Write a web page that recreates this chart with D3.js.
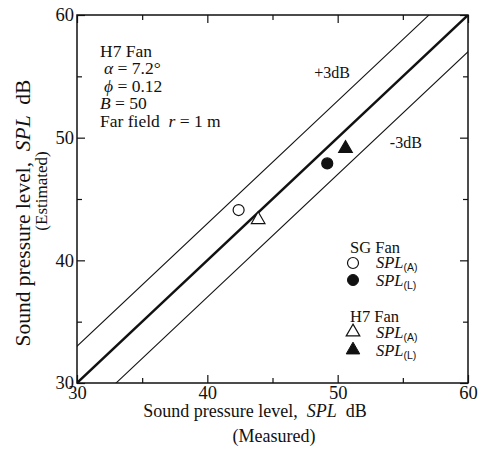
<!DOCTYPE html>
<html>
<head>
<meta charset="utf-8">
<script src="https://cdn.jsdelivr.net/npm/d3@7"></script>
<style>
  body { margin: 0; background: #fff; }
  text { font-family: "Liberation Serif", "Times New Roman", serif; fill: #111; white-space: pre; }
</style>
</head>
<body>
<div id="chart"></div>
<script>
// data
var majorTicks = [30, 40, 50, 60];
var minorTicks = [35, 45, 55];
var sgA = [[42.4, 44.1]];
var sgL = [[49.2, 47.9]];
var h7A = [[43.9, 43.4]];
var h7L = [[50.6, 49.2]];
var bandOffsets = [3, -3];
var infoLines = ["H7 Fan", "\u03b1 = 7.2\u00b0", "\u03d5 = 0.12", "B = 50", "Far field  r = 1 m"];

var W = 488, H = 452;
var margin = {top: 15, right: 20, bottom: 69, left: 77},
    width = W - margin.left - margin.right,
    height = H - margin.top - margin.bottom;

var svg = d3.select("#chart").append("svg")
    .attr("width", W).attr("height", H)
  .append("g")
    .attr("transform", "translate(" + margin.left + "," + margin.top + ")");

var x = d3.scaleLinear().domain([30, 60]).range([0, width]);
var y = d3.scaleLinear().domain([30, 60]).range([height, 0]);

// ticks pointing inward on every side
function ticks(axis, vals, len, labels) {
  return axis.tickValues(vals).tickSizeInner(-len).tickSizeOuter(0)
    .tickFormat(labels ? d3.format("d") : "");
}
var gx = svg.append("g").attr("transform", "translate(0," + height + ")");
gx.call(ticks(d3.axisBottom(x), majorTicks, 8, true).tickPadding(3));
gx.append("g").call(ticks(d3.axisBottom(x), minorTicks, 5, false));
var gxt = svg.append("g");
gxt.call(ticks(d3.axisTop(x), majorTicks, 8, false));
gxt.append("g").call(ticks(d3.axisTop(x), minorTicks, 5, false));
var gy = svg.append("g");
gy.call(ticks(d3.axisLeft(y), majorTicks, 8, true).tickPadding(3));
gy.append("g").call(ticks(d3.axisLeft(y), minorTicks, 5, false));
var gyr = svg.append("g").attr("transform", "translate(" + width + ",0)");
gyr.call(ticks(d3.axisRight(y), majorTicks, 8, false));
gyr.append("g").call(ticks(d3.axisRight(y), minorTicks, 5, false));

svg.selectAll(".domain").remove();
svg.selectAll(".tick line").attr("stroke", "#111").attr("stroke-width", 1.2);
svg.selectAll(".tick text")
  .style("font-family", "'Liberation Serif', serif")
  .style("font-size", "18.5px").attr("fill", "#111");

// frame
svg.append("rect").attr("width", width).attr("height", height)
  .attr("fill", "none").attr("stroke", "#111").attr("stroke-width", 1.5);

// clip for diagonal lines
svg.append("clipPath").attr("id", "clip").append("rect")
  .attr("width", width).attr("height", height);

var line = d3.line().x(function(d) { return x(d[0]); }).y(function(d) { return y(d[1]); });
svg.append("path").attr("clip-path", "url(#clip)")
  .attr("d", line([[30, 30], [60, 60]]))
  .attr("stroke", "#111").attr("stroke-width", 2.4).attr("fill", "none");
bandOffsets.forEach(function(o) {
  svg.append("path").attr("clip-path", "url(#clip)")
    .attr("d", line([[30 - 5, 30 - 5 + o], [60 + 5, 60 + 5 + o]]))
    .attr("stroke", "#111").attr("stroke-width", 1.1).attr("fill", "none");
});

svg.append("text").attr("x", x(48.2)).attr("y", y(55.3)).attr("dy", "0.35em")
  .style("font-size", "16px").text("+3dB");
svg.append("text").attr("x", x(54)).attr("y", y(49.6)).attr("dy", "0.35em")
  .style("font-size", "16px").text("-3dB");

// markers
var tri = d3.symbol().type(d3.symbolTriangle).size(80);
function circles(data, fill) {
  svg.selectAll(null).data(data).enter().append("circle")
    .attr("cx", function(d) { return x(d[0]); })
    .attr("cy", function(d) { return y(d[1]); })
    .attr("r", 5.5).attr("fill", fill).attr("stroke", "#111").attr("stroke-width", 1.2);
}
function triangles(data, fill) {
  svg.selectAll(null).data(data).enter().append("path")
    .attr("d", tri)
    .attr("transform", function(d) { return "translate(" + x(d[0]) + "," + (y(d[1]) + 1) + ")"; })
    .attr("fill", fill).attr("stroke", "#111").attr("stroke-width", 1.2);
}
circles(sgA, "#fff");
circles(sgL, "#111");
triangles(h7A, "#fff");
triangles(h7L, "#111");

// info block
var info = svg.append("g").attr("transform", "translate(23,42)");
info.selectAll("text").data(infoLines).enter().append("text")
  .attr("x", function(d, i) { return (i == 1 || i == 2) ? 4 : 0; })
  .attr("y", function(d, i) { return i * 17.4; })
  .style("font-size", "17.5px")
  .each(function(d, i) {
    var t = d3.select(this);
    if (i == 1 || i == 2) {
      t.append("tspan").style("font-style", "italic").text(d.slice(0, 1));
      t.append("tspan").text(d.slice(1));
    } else if (i == 3) {
      t.append("tspan").style("font-style", "italic").text("B");
      t.append("tspan").text(d.slice(1));
    } else if (i == 4) {
      t.append("tspan").text("Far field  ");
      t.append("tspan").style("font-style", "italic").text("r");
      t.append("tspan").text(" = 1 m");
    } else {
      t.text(d);
    }
  });

// legend
var leg = svg.append("g").attr("transform", "translate(" + (273) + ",0)");
function splLabel(yy, sub) {
  var t = leg.append("text").attr("x", 26).attr("y", yy).attr("dy", "0.35em").style("font-size", "16.5px");
  t.append("tspan").style("font-style", "italic").text("SPL");
  t.append("tspan").attr("dy", "0.3em")
    .style("font-family", "'Liberation Sans', Arial, sans-serif")
    .style("font-size", "10.5px").text(sub);
}
leg.append("text").attr("x", 0).attr("y", 232).attr("dy", "0.35em").style("font-size", "16.5px").text("SG Fan");
leg.append("circle").attr("cx", 3).attr("cy", 248).attr("r", 5.5)
  .attr("fill", "#fff").attr("stroke", "#111").attr("stroke-width", 1.2);
leg.append("circle").attr("cx", 3).attr("cy", 265).attr("r", 5.5)
  .attr("fill", "#111").attr("stroke", "#111");
splLabel(247, "(A)");
splLabel(265, "(L)");
leg.append("text").attr("x", 0).attr("y", 301).attr("dy", "0.35em").style("font-size", "16.5px").text("H7 Fan");
leg.append("path").attr("d", tri).attr("transform", "translate(3,317)")
  .attr("fill", "#fff").attr("stroke", "#111").attr("stroke-width", 1.2);
leg.append("path").attr("d", tri).attr("transform", "translate(3,335)")
  .attr("fill", "#111").attr("stroke", "#111");
splLabel(317, "(A)");
splLabel(335, "(L)");

// axis titles
var xt = svg.append("text").attr("x", 178).attr("y", height + 34)
  .attr("text-anchor", "middle").style("font-size", "18px");
xt.append("tspan").text("Sound pressure level,  ");
xt.append("tspan").style("font-style", "italic").text("SPL");
xt.append("tspan").text("  dB");
svg.append("text").attr("x", 197).attr("y", height + 59)
  .attr("text-anchor", "middle").style("font-size", "18px").text("(Measured)");

var yt = svg.append("text").attr("transform", "translate(-47," + 198 + ") rotate(-90)")
  .attr("text-anchor", "middle").style("font-size", "21.5px");
yt.append("tspan").text("Sound pressure level,  ");
yt.append("tspan").style("font-style", "italic").text("SPL");
yt.append("tspan").text("  dB");
svg.append("text").attr("transform", "translate(-30," + 176 + ") rotate(-90)")
  .attr("text-anchor", "middle").style("font-size", "17px").text("(Estimated)");
</script>
</body>
</html>
